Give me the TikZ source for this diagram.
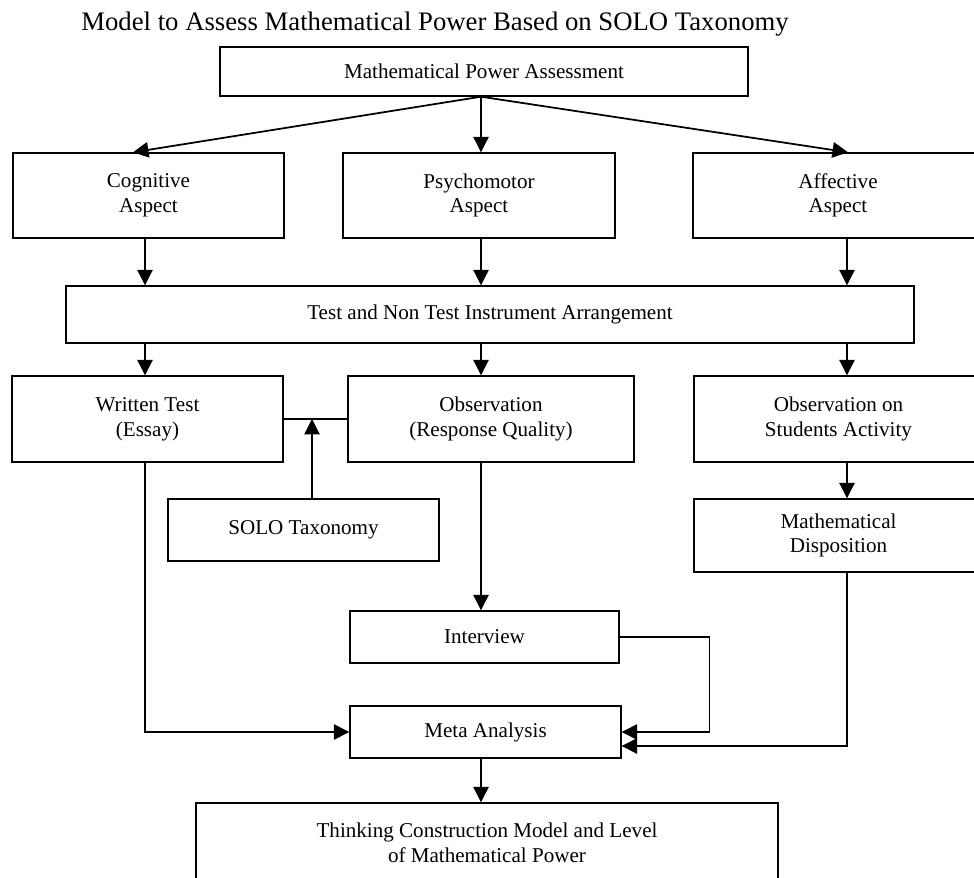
\documentclass[tikz,border=0pt]{standalone}
\usepackage{fontspec}
\setmainfont{Liberation Serif}
\usetikzlibrary{arrows.meta}

\begin{document}
\begin{tikzpicture}[font=\fontsize{12}{14}\selectfont, -{Triangle[length=3.1mm,width=3.1mm]}, line width=.6pt,
  box/.style={draw, line width=.8pt, align=center, inner sep=0pt}]
	\useasboundingbox (0,0) rectangle (19.48,17.54);
	\node[anchor=base west, font=\fontsize{15.2}{18}\selectfont] (title) at (1.5,16.92) {Model to Assess Mathematical Power Based on SOLO Taxonomy};
	\node[box, minimum width=10.56cm, minimum height=.98cm] (assess) at (9.68,16.11) {Mathematical Power Assessment};
	\node[box, minimum width=5.42cm, minimum height=1.7cm] (cog) at (2.97,13.63) {Cognitive\\Aspect};
	\node[box, minimum width=5.44cm, minimum height=1.7cm] (psy) at (9.58,13.63) {Psychomotor\\Aspect};
	\node[box, minimum width=5.8cm, minimum height=1.7cm] (aff) at (16.76,13.63) {Affective\\Aspect};
	\node[box, minimum width=16.96cm, minimum height=1.14cm] (test) at (9.80,11.25) {Test and Non Test Instrument Arrangement};
	\node[box, minimum width=5.42cm, minimum height=1.72cm] (written) at (2.95,9.16) {Written Test\\(Essay)};
	\node[box, minimum width=5.72cm, minimum height=1.72cm] (obs) at (9.82,9.16) {Observation\\(Response Quality)};
	\node[box, minimum width=5.78cm, minimum height=1.72cm] (stud) at (16.77,9.16) {Observation on\\Students Activity};
	\node[box, minimum width=5.42cm, minimum height=1.24cm] (solo) at (6.07,6.94) {SOLO Taxonomy};
	\node[box, minimum width=5.78cm, minimum height=1.46cm] (disp) at (16.77,6.83) {Mathematical\\Disposition};
	\node[box, minimum width=5.38cm, minimum height=1.04cm] (interview) at (9.69,4.80) {Interview};
	\node[box, minimum width=5.42cm, minimum height=1.04cm] (meta) at (9.71,2.90) {Meta Analysis};
	\node[box, minimum width=11.64cm, minimum height=1.58cm] (final) at (9.74,0.69) {Thinking Construction Model and Level\\of Mathematical Power};
	\coordinate (colL) at (2.90,0);
	\coordinate (colM) at (9.62,0);
	\coordinate (colR) at (16.94,0);
	\draw[line width=1pt] (colM |- assess.south) -- ([xshift=-3.1mm]cog.north);
	\draw (colM |- assess.south) -- (colM |- psy.north);
	\draw[line width=1pt] (colM |- assess.south) -- ([xshift=2mm]aff.north);
	\draw (cog.south -| colL) -- (test.north -| colL);
	\draw (psy.south -| colM) -- (test.north -| colM);
	\draw (aff.south -| colR) -- (test.north -| colR);
	\draw (test.south -| colL) -- (written.north -| colL);
	\draw (test.south -| colM) -- (obs.north -| colM);
	\draw (test.south -| colR) -- (stud.north -| colR);
	\draw[-] (written.east) -- (obs.west);
	\coordinate (soloTop) at ([xshift=1.7mm]solo.north);
	\draw (soloTop) -- (soloTop |- written.east);
	\draw (stud.south -| colR) -- (disp.north -| colR);
	\draw (obs.south -| colM) -- (interview.north -| colM);
	\draw[line width=.8pt] (written.south -| colL) |- (meta.west);
	\draw[line width=.8pt] (interview.east) -- ++(1.8,0) |- (meta.east);
	\draw[line width=.8pt] (disp.south -| colR) |- ([yshift=-2.8mm]meta.east);
	\draw (meta.south -| colM) -- (final.north -| colM);
\end{tikzpicture}
\end{document}
